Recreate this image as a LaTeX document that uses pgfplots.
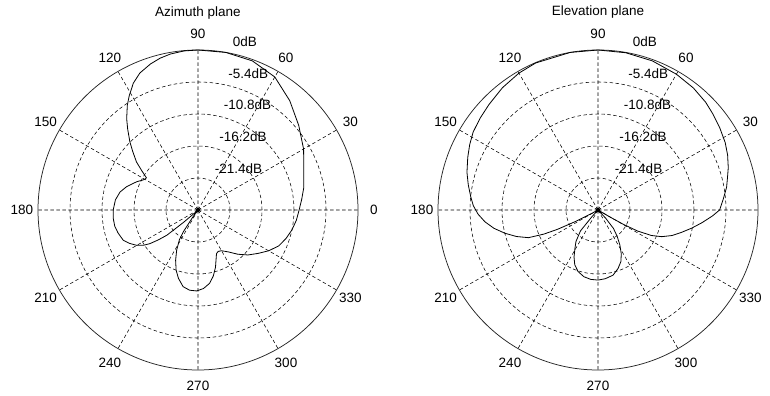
\documentclass[border=0pt]{standalone}
\usepackage{fontspec}
\setmainfont{Liberation Sans}
\usepackage{pgfplots}
\pgfplotsset{compat=1.18}
\usepgfplotslibrary{polar}
\newcommand{\lbl}{\fontsize{13.5bp}{15bp}\selectfont}
\pgfplotsset{mypolar/.style={
  scale only axis, width=320bp, height=320bp,
  xmin=0, xmax=360, ymin=0, ymax=5,
  xtick={0,30,...,330}, ytick={1,2,3,4},
  xticklabel=\empty, yticklabel=\empty,
  grid=major,
  major grid style={black, line width=0.55bp, dash pattern=on 3.5bp off 2.5bp},
  major tick length=0pt,
  x axis line style={black!85, line width=0.75bp},
  y axis line style={draw=none},
  clip=false,
  anchor=center,
}}
\begin{document}
\begin{tikzpicture}
\path[use as bounding box] (0,0) rectangle (770bp,396bp);
% ---------------- Azimuth plane ----------------
\begin{polaraxis}[mypolar, at={(198bp,186bp)}]
\addplot[black, line width=0.8bp] coordinates {
(0,3.16) (6,3.26) (12,3.38) (20,3.52) (30,3.81) (40,4.11) (50,4.46) (60,4.80)
(70,4.96) (80,5.0) (90,5.0) (95,4.99) (100,4.95) (104,4.89) (108,4.80) (113,4.65)
(117,4.45) (121,4.17) (124,3.95) (128,3.62) (131,3.35) (135,3.01) (138,2.75)
(142,2.44) (145,2.15) (148,1.90) (150,1.92) (152,1.98) (155,2.10) (158,2.20)
(162,2.35) (167,2.50) (173,2.60) (180,2.65) (186,2.66) (191,2.65) (196,2.60)
(202,2.52) (206,2.38) (210,2.21) (213,2.02) (215,1.83) (217,1.55) (219,1.25)
(220.5,0.6) (222,0.1) (228,0.02) (234,0.3) (236,0.8) (238,1.1) (242,1.42)
(246,1.72) (250,2.0) (254,2.22) (259,2.44) (264,2.52) (269,2.53) (274,2.46)
(279,2.32) (283,2.12) (287,1.87) (290,1.65) (293,1.48) (296,1.44) (300,1.47)
(306,1.62) (312,1.86) (318,2.10) (324,2.31) (330,2.55) (336,2.76) (342,2.89)
(348,3.0) (354,3.09) (360,3.16)
};
\pgfplotsinvokeforeach{0,30,...,330}{\node[font=\lbl] at (axis cs:#1,5.5) {#1};}
\node[font=\lbl] at (axis cs:90,6.15) {Azimuth plane};
\node[font=\lbl, anchor=base west, xshift=9bp, yshift=5bp] at (axis cs:82,5) {0dB};
\node[font=\lbl, anchor=base west, xshift=9bp, yshift=5bp] at (axis cs:82,4) {-5.4dB};
\node[font=\lbl, anchor=base west, xshift=9bp, yshift=5bp] at (axis cs:82,3) {-10.8dB};
\node[font=\lbl, anchor=base west, xshift=9bp, yshift=5bp] at (axis cs:82,2) {-16.2dB};
\node[font=\lbl, anchor=base west, xshift=9bp, yshift=5bp] at (axis cs:82,1) {-21.4dB};
\end{polaraxis}
% ---------------- Elevation plane ----------------
\begin{polaraxis}[mypolar, at={(598bp,186bp)}]
\addplot[black, line width=0.8bp] coordinates {
(0,3.80) (5,3.93) (10,4.08) (14,4.17) (18,4.28) (23,4.40) (28,4.50) (34,4.59)
(40,4.68) (45,4.76) (52,4.84) (60,4.90) (70,4.96) (80,4.99) (90,5.0) (100,5.0)
(113,4.99) (120,4.94) (128,4.85) (136,4.74) (142,4.67) (148,4.60) (153,4.50)
(158,4.39) (164,4.26) (169,4.13) (174,4.0) (178,3.90) (182,3.75) (186,3.55)
(190,3.30) (194,3.00) (198,2.68) (201.7,2.34) (204,1.85) (205.5,1.4) (207,0.8)
(208.5,0.2) (210,0) (225,0) (228,0.3) (230,0.85) (235,1.2) (239,1.40) (243,1.65)
(247,1.86) (252,2.02) (258,2.13) (264,2.18) (270,2.19) (276,2.16) (283,2.09)
(289,1.93) (294,1.76) (298,1.55) (302,1.29) (306,1.02) (310,0.75) (313,0.35)
(315,0) (328,0) (329.5,0.4) (330.5,0.9) (332,1.4) (334.5,1.85) (337.3,2.16)
(341,2.45) (345,2.7) (349,2.98) (353,3.27) (357,3.58) (360,3.80)
};
\pgfplotsinvokeforeach{0,30,...,330}{\node[font=\lbl] at (axis cs:#1,5.5) {#1};}
\node[font=\lbl] at (axis cs:90,6.18) {Elevation plane};
\node[font=\lbl, anchor=base west, xshift=9bp, yshift=5bp] at (axis cs:82,5) {0dB};
\node[font=\lbl, anchor=base west, xshift=9bp, yshift=5bp] at (axis cs:82,4) {-5.4dB};
\node[font=\lbl, anchor=base west, xshift=9bp, yshift=5bp] at (axis cs:82,3) {-10.8dB};
\node[font=\lbl, anchor=base west, xshift=9bp, yshift=5bp] at (axis cs:82,2) {-16.2dB};
\node[font=\lbl, anchor=base west, xshift=9bp, yshift=5bp] at (axis cs:82,1) {-21.4dB};
\end{polaraxis}
\end{tikzpicture}
\end{document}
